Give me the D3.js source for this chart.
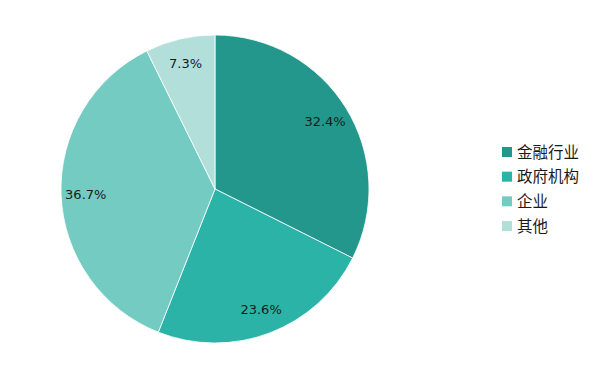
<!DOCTYPE html>
<html><head><meta charset="utf-8">
<script src="https://cdn.jsdelivr.net/npm/d3@7"></script>
<style>body{margin:0;background:#fff}svg{display:block}</style>
</head><body><svg id="c" width="595" height="380"></svg>
<script>
const categories = ["金融行业", "政府机构", "企业", "其他"];
const values = [32.4, 23.6, 36.7, 7.3];
const labels = ["32.4%", "23.6%", "36.7%", "7.3%"];
const colors = ["#23978C", "#2BB3A7", "#73CBC1", "#B2DFDA"];

const svg = d3.select("#c");
const cx = 215, cy = 189, R = 154;
const pie = d3.pie().sort(null).value(d => d)(values);
const arc = d3.arc().innerRadius(0).outerRadius(R);
const labelArc = d3.arc().innerRadius(R * 0.84).outerRadius(R * 0.84);
const g = svg.append("g").attr("transform", `translate(${cx},${cy})`);
g.selectAll("path").data(pie).join("path")
  .attr("d", arc).attr("fill", (d, i) => colors[i])
  .attr("stroke", "#fff").attr("stroke-width", 0.8);
g.selectAll("text").data(pie).join("text")
  .attr("transform", d => `translate(${labelArc.centroid(d)})`)
  .attr("text-anchor", "middle").attr("dy", "0.35em")
  .attr("font-family", "'DejaVu Sans', sans-serif").attr("font-size", 13)
  .attr("fill", "#1a1a1a").text((d, i) => labels[i]);

const y = d3.scalePoint().domain(categories).range([152, 226]);
const lg = svg.append("g");
lg.selectAll("rect").data(categories).join("rect")
  .attr("x", 502).attr("y", d => y(d) - 5).attr("width", 10).attr("height", 10)
  .attr("fill", (d, i) => colors[i]);
lg.selectAll("text").data(categories).join("text")
  .attr("x", 517).attr("y", d => y(d)).attr("dy", "0.36em")
  .attr("font-family", "'Noto Sans CJK SC', sans-serif").attr("font-size", 15.5)
  .attr("fill", "#1a1a1a").text(d => d);
</script></body></html>
